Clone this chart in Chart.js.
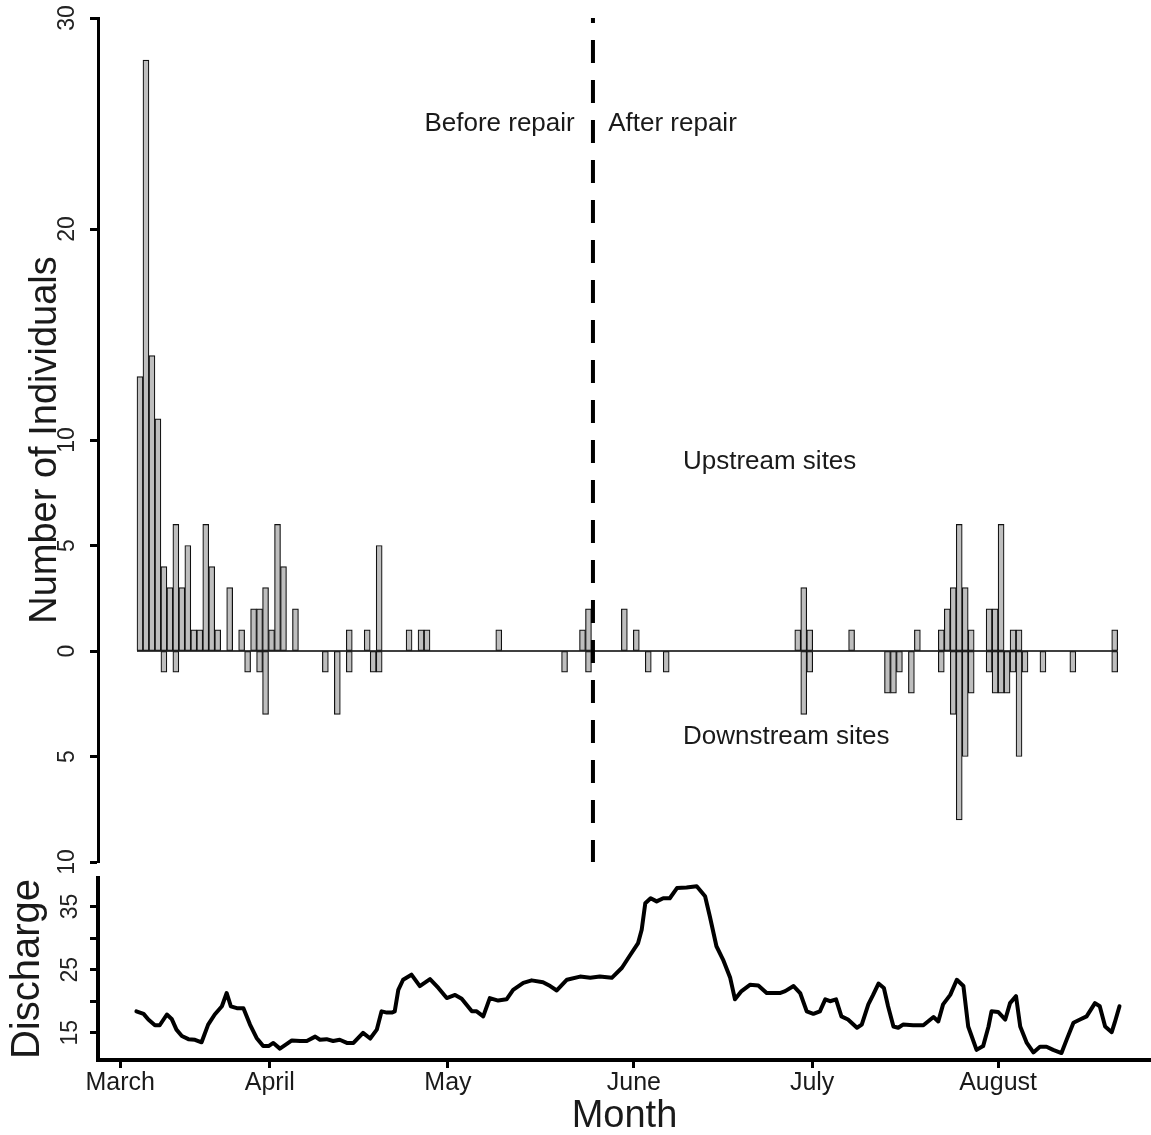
<!DOCTYPE html>
<html>
<head>
<meta charset="utf-8">
<script src="https://cdn.jsdelivr.net/npm/chart.js@4.4.1/dist/chart.umd.min.js"></script>
<style>
  html, body { margin: 0; padding: 0; background: #fff; }
  #wrap { position: relative; width: 1151px; height: 1135px; overflow: hidden; }
  canvas { position: absolute; left: 0; }
  #counts { top: 0; }
  #flow { top: 862px; }
</style>
</head>
<body>
<div id="wrap">
  <canvas id="counts" width="1151" height="880"></canvas>
  <canvas id="flow" width="1151" height="273"></canvas>
</div>
<script>
// days counted from the first sampling day (day 0)
const upDays = [0, 1, 2, 3, 4, 5, 6, 7, 8, 9, 10, 11, 12, 13, 15, 17, 19, 20, 21, 22, 23, 24, 26,
  35, 38, 40, 45, 47, 48, 60, 74, 75, 81, 83, 110, 111, 112, 119, 130, 134, 135, 136, 137, 138, 139,
  142, 143, 144, 146, 147, 163];
const upCounts = [13, 28, 14, 11, 4, 3, 6, 3, 5, 1, 1, 6, 4, 1, 3, 1, 2, 2, 3, 1, 6, 4, 2,
  1, 1, 5, 1, 1, 1, 1, 1, 2, 2, 1, 1, 3, 1, 1, 1, 1, 2, 3, 6, 3, 1,
  2, 2, 6, 1, 1, 1];

const downDays = [4, 6, 18, 20, 21, 31, 33, 35, 39, 40, 71, 75, 85, 88, 111, 112, 125, 126, 127, 129,
  134, 136, 137, 138, 139, 142, 143, 144, 145, 146, 147, 148, 151, 156, 163];
const downCounts = [1, 1, 1, 1, 3, 1, 3, 1, 1, 1, 1, 1, 1, 1, 3, 1, 2, 2, 1, 2,
  1, 3, 8, 5, 2, 1, 2, 2, 2, 1, 5, 1, 1, 1, 1];

const dischargeDays = [-0.6, 0.6, 1.4, 2.5, 3.3, 4.5, 5.3, 6.1, 7.0, 8.1, 9.2, 10.3, 11.4, 12.5, 13.7,
  14.5, 15.2, 16.2, 17.3, 18.4, 19.5, 20.6, 21.5, 22.3, 23.4, 24.5, 25.4, 26.8, 27.9, 29.3,
  30.1, 31.2, 32.3, 33.4, 34.6, 35.7, 37.3, 38.5, 39.6, 40.4, 41.3, 42.1, 42.6, 43.2, 44.0,
  45.4, 46.8, 48.5, 49.9, 51.3, 52.7, 53.8, 55.5, 56.3, 57.4, 58.5, 59.9, 61.3, 62.4, 64.1,
  65.5, 67.4, 68.6, 69.7, 71.4, 73.6, 75.3, 76.9, 78.9, 80.6, 81.9, 83.3, 83.9, 84.5, 85.4,
  86.4, 87.5, 88.6, 89.8, 91.4, 93.1, 94.5, 95.3, 96.4, 97.5, 98.7, 99.5, 100.6, 102.0, 103.4,
  104.8, 107.0, 107.9, 109.3, 110.4, 111.5, 112.6, 113.7, 114.6, 115.4, 116.4, 117.3, 118.4, 119.9, 120.7,
  121.8, 122.6, 123.5, 124.4, 125.1, 126.0, 126.8, 127.6, 129.3, 131.0, 132.7, 133.5, 134.3, 135.5, 136.6,
  137.7, 138.5, 139.9, 141.0, 141.9, 142.4, 143.5, 144.7, 145.5, 146.5, 147.2, 148.3, 149.4, 150.5, 151.6,
  152.7, 154.1, 155.0, 156.1, 157.2, 158.3, 159.7, 160.5, 161.4, 162.5, 163.0, 163.8];
const dischargeFlow = [18.4, 18.0, 17.1, 16.2, 16.2, 17.9, 17.2, 15.5, 14.5, 14.0, 13.9, 13.5, 16.3, 17.9, 19.2,
  21.3, 19.2, 18.9, 18.9, 16.3, 14.2, 12.9, 12.9, 13.4, 12.5, 13.2, 13.8, 13.7, 13.7, 14.4,
  13.9, 14.0, 13.7, 13.9, 13.4, 13.4, 15.0, 14.1, 15.5, 18.4, 18.2, 18.2, 18.4, 21.8, 23.4,
  24.2, 22.4, 23.5, 22.1, 20.5, 21.0, 20.4, 18.4, 18.4, 17.6, 20.5, 20.1, 20.3, 21.8, 22.9,
  23.3, 23.0, 22.4, 21.7, 23.4, 23.9, 23.7, 23.9, 23.7, 25.3, 27.2, 29.2, 31.3, 35.5, 36.3,
  35.8, 36.3, 36.3, 37.9, 38.0, 38.2, 36.6, 33.4, 28.7, 26.6, 23.7, 20.3, 21.6, 22.6, 22.5,
  21.3, 21.3, 21.6, 22.4, 21.3, 18.4, 18.0, 18.4, 20.3, 20.0, 20.3, 17.6, 17.1, 15.8, 16.3,
  19.5, 21.0, 22.8, 22.1, 19.2, 16.0, 15.8, 16.3, 16.2, 16.2, 17.5, 16.8, 19.5, 21.0, 23.4,
  22.4, 16.0, 12.3, 12.9, 16.0, 18.4, 18.3, 17.1, 19.7, 20.8, 16.0, 13.4, 11.9, 12.8, 12.8,
  12.3, 11.8, 14.0, 16.6, 17.1, 17.6, 19.7, 19.2, 16.0, 15.1, 16.6, 19.2];

const monthTicks = [-3.3, 21.7, 51.5, 82.6, 112.4, 143.5];
const monthLabels = ['March', 'April', 'May', 'June', 'July', 'August'];

const countTicks = [-10, -5, 0, 5, 10, 20, 30];
const countTickLabels = ['10', '5', '0', '5', '10', '20', '30'];
const flowTicks = [15, 20, 25, 30, 35];
const flowTickLabels = ['15', '', '25', '', '35'];

const repairDay = 75.75;

const noteTexts = ['Before repair', 'After repair', 'Upstream sites', 'Downstream sites'];
const noteDays = [72.7, 78.3, 90.8, 90.8];
const noteValues = [25, 25, 8.95, -4.05];
const noteAligns = ['right', 'left', 'left', 'left'];

const FONT = "'Liberation Sans', Arial, Helvetica, sans-serif";
const X_MIN = -7.02, X_MAX = 169.07;

// tick labels turned 90 degrees, like the base-R plot
const rotatedTicks = {
  id: 'rotatedTicks',
  afterDraw(chart, args, opts) {
    const scale = chart.scales.y;
    const ctx = chart.ctx;
    ctx.save();
    ctx.fillStyle = '#222';
    ctx.font = opts.size + 'px ' + FONT;
    ctx.textAlign = 'center';
    ctx.textBaseline = 'middle';
    opts.values.forEach((v, i) => {
      if (!opts.labels[i]) return;
      ctx.save();
      ctx.translate(opts.x, scale.getPixelForValue(v));
      ctx.rotate(-Math.PI / 2);
      ctx.fillText(opts.labels[i], 0, 0);
      ctx.restore();
    });
    ctx.restore();
  }
};

const notes = {
  id: 'notes',
  afterDatasetsDraw(chart) {
    const { ctx, scales: { x, y } } = chart;
    ctx.save();
    ctx.font = '26px ' + FONT;
    ctx.fillStyle = '#1a1a1a';
    ctx.textBaseline = 'middle';
    noteTexts.forEach((t, i) => {
      ctx.textAlign = noteAligns[i];
      ctx.fillText(t, x.getPixelForValue(noteDays[i]), y.getPixelForValue(noteValues[i]));
    });
    ctx.restore();
  }
};

const barStyle = {
  backgroundColor: '#bebebe',
  borderColor: '#111',
  borderWidth: 1.2,
  borderSkipped: false,
  grouped: false,
  barPercentage: 1,
  categoryPercentage: 1,
  order: 2
};

new Chart(document.getElementById('counts'), {
  type: 'bar',
  data: {
    datasets: [
      {
        type: 'line',
        data: [{ x: repairDay, y: 30 }, { x: repairDay, y: -10 }],
        borderColor: '#000',
        borderWidth: 4,
        borderDash: [23, 17],
        borderDashOffset: 18,
        pointRadius: 0,
        order: 0
      },
      {
        type: 'line',
        data: [{ x: upDays[0] - 0.5, y: 0 }, { x: upDays[upDays.length - 1] + 0.5, y: 0 }],
        borderColor: '#000',
        borderWidth: 1.5,
        pointRadius: 0,
        order: 1
      },
      Object.assign({ label: 'Upstream sites', data: upDays.map((d, i) => ({ x: d, y: upCounts[i] })) }, barStyle),
      Object.assign({ label: 'Downstream sites', data: downDays.map((d, i) => ({ x: d, y: -downCounts[i] })) }, barStyle)
    ]
  },
  options: {
    responsive: false,
    animation: false,
    layout: { padding: { top: 18, bottom: 18, left: 0, right: 0 } },
    plugins: {
      legend: { display: false },
      tooltip: { enabled: false },
      rotatedTicks: { values: countTicks, labels: countTickLabels, x: 68, size: 23 }
    },
    scales: {
      x: { type: 'linear', display: false, min: X_MIN, max: X_MAX, offset: false },
      y: {
        min: -10,
        max: 30,
        afterFit(s) { s.width = 98; },
        afterBuildTicks(s) { s.ticks = countTicks.map(v => ({ value: v })); },
        ticks: { display: false },
        grid: { drawOnChartArea: false, drawTicks: true, tickLength: 8, tickWidth: 3, tickColor: '#000' },
        border: { display: true, color: '#000', width: 3 },
        title: {
          display: true,
          text: 'Number of Individuals',
          color: '#1a1a1a',
          font: { family: FONT, size: 38 },
          padding: { top: 23, bottom: 0 }
        }
      }
    }
  },
  plugins: [rotatedTicks, notes]
});

new Chart(document.getElementById('flow'), {
  type: 'line',
  data: {
    datasets: [{
      label: 'Discharge',
      data: dischargeDays.map((d, i) => ({ x: d, y: dischargeFlow[i] })),
      borderColor: '#000',
      borderWidth: 4,
      borderJoinStyle: 'round',
      borderCapStyle: 'round',
      pointRadius: 0,
      tension: 0
    }]
  },
  options: {
    responsive: false,
    animation: false,
    layout: { padding: { top: 16, bottom: 0, left: 0, right: 0 } },
    plugins: {
      legend: { display: false },
      tooltip: { enabled: false },
      rotatedTicks: { values: flowTicks, labels: flowTickLabels, x: 71, size: 23 }
    },
    scales: {
      x: {
        type: 'linear',
        min: X_MIN,
        max: X_MAX,
        afterFit(s) { s.height = 75; },
        afterBuildTicks(s) { s.ticks = monthTicks.map(v => ({ value: v })); },
        ticks: {
          callback: (v, i) => monthLabels[i],
          autoSkip: false,
          maxRotation: 0,
          padding: 0,
          color: '#1a1a1a',
          font: { family: FONT, size: 25 }
        },
        grid: { drawOnChartArea: false, drawTicks: true, tickLength: 8, tickWidth: 3, tickColor: '#000' },
        border: { display: true, color: '#000', width: 4 },
        title: {
          display: true,
          text: 'Month',
          color: '#1a1a1a',
          font: { family: FONT, size: 38 },
          padding: { top: 0, bottom: -4 }
        }
      },
      y: {
        min: 10.7,
        max: 39.5,
        afterFit(s) { s.width = 98; },
        afterBuildTicks(s) { s.ticks = flowTicks.map(v => ({ value: v })); },
        ticks: { display: false },
        grid: { drawOnChartArea: false, drawTicks: true, tickLength: 8, tickWidth: 3, tickColor: '#000' },
        border: { display: true, color: '#000', width: 4 },
        title: {
          display: true,
          text: 'Discharge',
          color: '#1a1a1a',
          font: { family: FONT, size: 40 },
          padding: { top: 4, bottom: 0 }
        }
      }
    }
  },
  plugins: [rotatedTicks]
});
</script>
</body>
</html>
